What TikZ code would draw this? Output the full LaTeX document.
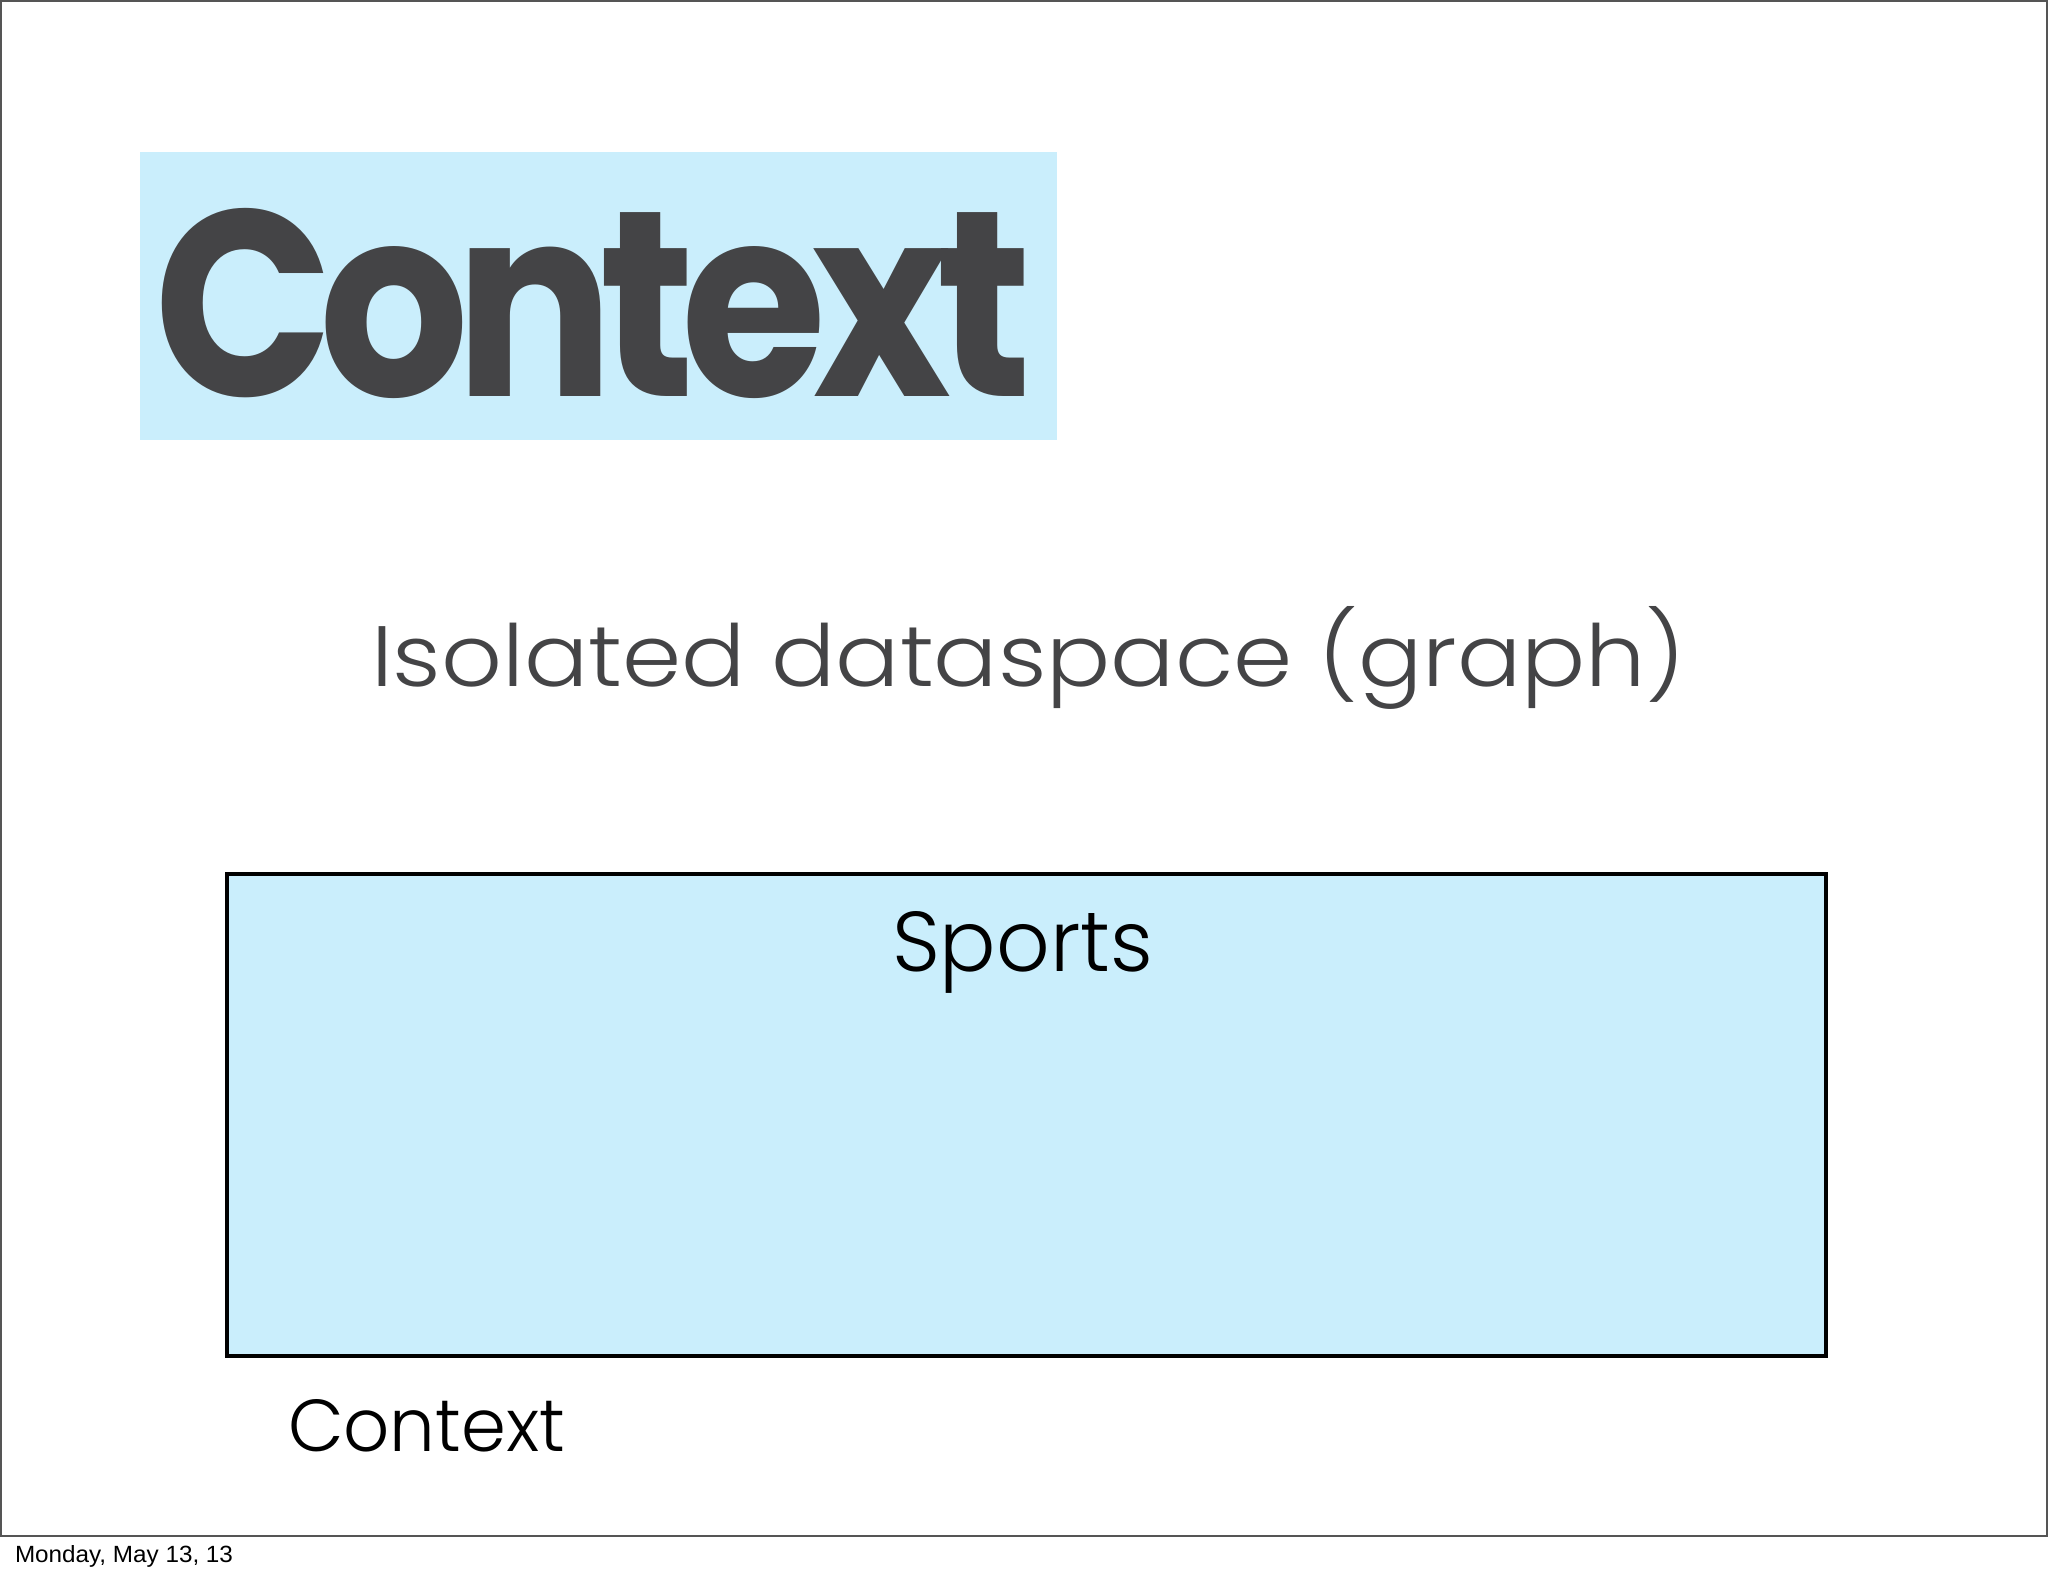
\documentclass[tikz,border=0pt]{standalone}
\usepackage{fontspec}
\usepackage{graphicx}
\newfontfamily\titlefont{Poppins Bold}[LetterSpace=-6]
\newfontfamily\lightfont{Poppins Light}
\newfontfamily\datefont{Liberation Sans}
\definecolor{hiblue}{RGB}{202,238,252}
\definecolor{titlegray}{RGB}{68,68,70}
\definecolor{framegray}{RGB}{85,85,85}
\tikzset{
  txt/.style={anchor=base west, inner sep=0pt, outer sep=0pt},
}
\begin{document}
\begin{tikzpicture}[x=1pt,y=-1pt]
\useasboundingbox (0,0) rectangle (2048,1576);
\fill[white] (0,0) rectangle (2048,1576);
\draw[framegray, line width=2pt] (1,1) rectangle (2047,1536);
\fill[hiblue] (140,152) rectangle (1057,440);
\node[txt, text=titlegray] (title) at (154,396) {\resizebox{877pt}{188pt}{\titlefont Context}};
\node[txt, text=titlegray] (sub) at (371,686) {\resizebox{1314pt}{80pt}{\lightfont Isolated dataspace (graph)}};
\node[draw=black, line width=4pt, fill=hiblue, anchor=north west, inner sep=0pt, minimum width=1599.5pt, minimum height=482pt] (box) at (224.5,872) {};
\node[txt, text=black] (sports) at (892,971) {\resizebox{261pt}{60pt}{\lightfont Sports}};
\node[txt, text=black] (ctx) at (288,1451) {\resizebox{277pt}{52pt}{\lightfont Context}};
\node[txt, text=black] (date) at (15,1562) {\resizebox{218pt}{17pt}{\datefont Monday, May 13, 13}};
\end{tikzpicture}
\end{document}
